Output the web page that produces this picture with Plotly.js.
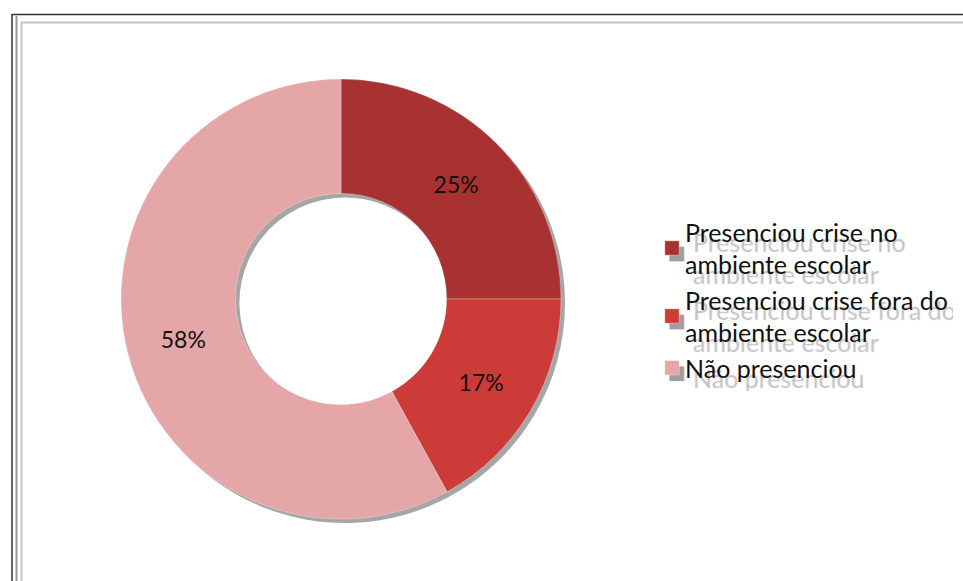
<!DOCTYPE html>
<html>
<head>
<meta charset="utf-8">
<script src="https://cdn.plot.ly/plotly-3.0.1.min.js"></script>
<style>
html,body{margin:0;padding:0;background:#fff;}
#chart{width:963px;height:581px;}
#chart .legend .legendpoints path{transform:translate(27px,0px) scale(1.2);filter:drop-shadow(4px 5px 0px #9e9e9e);}
</style>
</head>
<body>
<div id="chart"></div>
<script>
const labels = ["Presenciou crise no<br>ambiente escolar", "Presenciou crise fora do<br>ambiente escolar", "Não presenciou"];
const values = [25, 17, 58];
const sliceColors = ["#A83131", "#CC3B38", "#E4A6A6"];
const shadowColor = "#A6A6A6";

const W = 963, H = 581;
const px = x => x / W;
const py = y => 1 - y / H;

const cx = 341, cy = 299, r = 220, hole = 0.48;

const shadowRing = {
  type: "pie", values: values, labels: labels, sort: false, direction: "clockwise",
  hole: hole, textinfo: "none", hoverinfo: "skip", showlegend: false,
  marker: {colors: [shadowColor, shadowColor, shadowColor], line: {width: 0}},
  domain: {x: [px(cx - r + 4), px(cx + r + 4)], y: [py(cy + r + 4), py(cy - r + 4)]}
};

const mainPie = {
  type: "pie", values: values, labels: labels, sort: false, direction: "clockwise",
  hole: hole,
  marker: {colors: sliceColors, line: {width: 0.6, color: "rgba(255,255,255,0.5)"}},
  texttemplate: "%{percent:.0%}", textposition: "inside", insidetextorientation: "horizontal",
  textfont: {family: "Lato, 'Open Sans', sans-serif", size: 23, color: "#111"},
  domain: {x: [px(cx - r), px(cx + r)], y: [py(cy + r), py(cy - r)]}
};

const layout = {
  width: W, height: H,
  margin: {l: 0, r: 0, t: 0, b: 0},
  paper_bgcolor: "#ffffff",
  showlegend: true,
  legend: {
    x: px(645), y: py(209), xanchor: "left", yanchor: "top",
    font: {family: "Lato, 'Open Sans', sans-serif", size: 25, color: "#111",
           shadow: "8px 10px 1px rgba(165,165,165,0.7)"},
    bgcolor: "rgba(0,0,0,0)", traceorder: "normal"
  },
  shapes: [
    {type: "line", xref: "paper", yref: "paper", x0: px(12), x1: 1.05, y0: py(14.5), y1: py(14.5), line: {color: "#333", width: 1.5}},
    {type: "line", xref: "paper", yref: "paper", x0: px(12), x1: px(12), y0: py(14), y1: -0.05, line: {color: "#333", width: 1.5}},
    {type: "line", xref: "paper", yref: "paper", x0: px(16.5), x1: px(16.5), y0: py(16), y1: -0.05, line: {color: "#9a9a9a", width: 2}},
    {type: "line", xref: "paper", yref: "paper", x0: px(21.5), x1: px(21.5), y0: py(22), y1: -0.05, line: {color: "#c4c4c4", width: 2}},
    {type: "line", xref: "paper", yref: "paper", x0: px(21), x1: 1.05, y0: py(22.5), y1: py(22.5), line: {color: "#c4c4c4", width: 2}}
  ]
};

Plotly.newPlot("chart", [shadowRing, mainPie], layout, {displayModeBar: false, staticPlot: true});
</script>
</body>
</html>
